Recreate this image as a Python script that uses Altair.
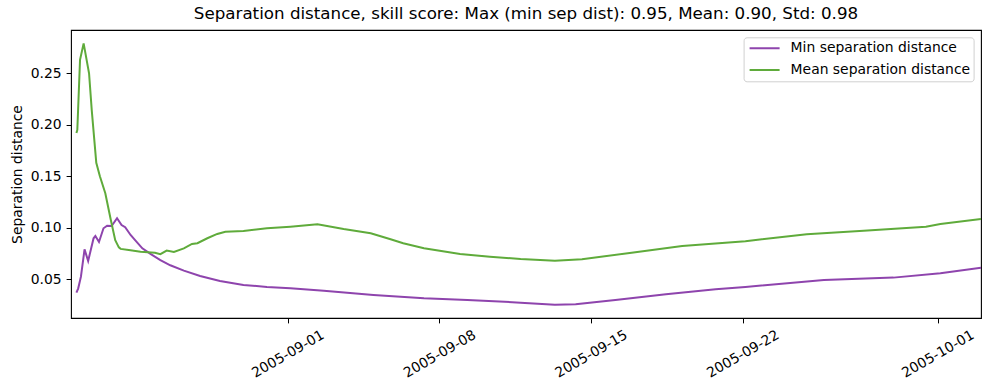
import altair as alt
import pandas as pd

# ---- data ----
series_names = ["Min separation distance", "Mean separation distance"]
series_colors = ["#8e44ad", "#5fab3b"]

min_times = [
    "2005-08-22 06:00", "2005-08-22 08:00", "2005-08-22 11:00", "2005-08-22 15:00",
    "2005-08-22 19:00", "2005-08-23 01:00", "2005-08-23 03:00", "2005-08-23 07:00",
    "2005-08-23 12:00", "2005-08-23 16:00", "2005-08-23 21:00", "2005-08-24 03:00",
    "2005-08-24 08:00", "2005-08-24 12:00", "2005-08-24 18:00", "2005-08-24 23:00",
    "2005-08-25 07:00", "2005-08-25 16:00", "2005-08-26 03:00", "2005-08-26 14:00",
    "2005-08-27 05:00", "2005-08-27 23:00", "2005-08-28 21:00", "2005-08-29 23:00",
    "2005-08-31 01:00", "2005-09-01 03:00", "2005-09-02 16:00", "2005-09-04 23:00",
    "2005-09-07 07:00", "2005-09-09 07:00", "2005-09-11 18:00", "2005-09-13 08:00",
    "2005-09-14 07:00", "2005-09-16 03:00", "2005-09-18 11:00", "2005-09-20 18:00",
    "2005-09-22 03:00", "2005-09-25 18:00", "2005-09-28 23:00", "2005-10-01 03:00",
    "2005-10-03 00:00",
]
min_values = [
    0.0370, 0.0412, 0.0525, 0.0790,
    0.0678, 0.0898, 0.0920, 0.0862,
    0.0995, 0.1020, 0.1017, 0.1092,
    0.1027, 0.1005, 0.0930, 0.0880,
    0.0800, 0.0746, 0.0687, 0.0636,
    0.0584, 0.0532, 0.0484, 0.0445,
    0.0425, 0.0413, 0.0389, 0.0348,
    0.0316, 0.0299, 0.0273, 0.0253,
    0.0257, 0.0299, 0.0354, 0.0403,
    0.0425, 0.0493, 0.0516, 0.0558,
    0.0613,
]

mean_times = [
    "2005-08-22 06:00", "2005-08-22 07:00", "2005-08-22 10:00", "2005-08-22 14:00",
    "2005-08-22 20:00", "2005-08-22 23:00", "2005-08-23 04:00", "2005-08-23 08:00",
    "2005-08-23 14:00", "2005-08-23 20:00", "2005-08-24 01:00", "2005-08-24 05:00",
    "2005-08-24 07:00", "2005-08-24 16:00", "2005-08-25 05:00", "2005-08-25 21:00",
    "2005-08-26 03:00", "2005-08-26 10:00", "2005-08-26 18:00", "2005-08-27 05:00",
    "2005-08-27 14:00", "2005-08-27 20:00", "2005-08-28 07:00", "2005-08-28 18:00",
    "2005-08-29 03:00", "2005-08-29 23:00", "2005-08-31 01:00", "2005-09-01 03:00",
    "2005-09-02 09:00", "2005-09-03 14:00", "2005-09-04 20:00", "2005-09-05 18:00",
    "2005-09-06 08:00", "2005-09-07 07:00", "2005-09-08 23:00", "2005-09-10 08:00",
    "2005-09-11 18:00", "2005-09-13 08:00", "2005-09-14 14:00", "2005-09-16 21:00",
    "2005-09-19 05:00", "2005-09-22 03:00", "2005-09-24 23:00", "2005-09-27 14:00",
    "2005-09-30 11:00", "2005-10-01 03:00", "2005-10-03 00:00",
]
mean_values = [
    0.1920, 0.1950, 0.2630, 0.2790,
    0.2500, 0.2140, 0.1630, 0.1500,
    0.1335, 0.1080, 0.0880, 0.0810,
    0.0795, 0.0785, 0.0768, 0.0758,
    0.0743, 0.0778, 0.0765, 0.0800,
    0.0843, 0.0850, 0.0898, 0.0940,
    0.0962, 0.0969, 0.0995, 0.1011,
    0.1034, 0.0988, 0.0947, 0.0888,
    0.0850, 0.0801, 0.0746, 0.0719,
    0.0697, 0.0681, 0.0694, 0.0758,
    0.0823, 0.0870, 0.0937, 0.0972,
    0.1011, 0.1037, 0.1085,
]

x_tick_dates = [(2005, 9, 1), (2005, 9, 8), (2005, 9, 15), (2005, 9, 22), (2005, 10, 1)]
x_domain = [(2005, 8, 22), (2005, 10, 3)]
y_ticks = [0.05, 0.10, 0.15, 0.20, 0.25]
y_domain = [0.0124, 0.292]

title_text = "Separation distance, skill score: Max (min sep dist): 0.95, Mean: 0.90, Std: 0.98"
y_title = "Separation distance"

# ---- build table ----
def iso(ts):
    return pd.to_datetime(ts).strftime("%Y-%m-%dT%H:%M:%SZ")

rows = []
for t, v in zip(min_times, min_values):
    rows.append({"time": iso(t), "value": v, "series": series_names[0]})
for t, v in zip(mean_times, mean_values):
    rows.append({"time": iso(t), "value": v, "series": series_names[1]})
df = pd.DataFrame(rows)


def dt(y, m, d):
    return alt.DateTime(year=y, month=m, date=d, utc=True)


FONT = "DejaVu Sans"

chart = (
    alt.Chart(df)
    .mark_line(strokeWidth=2, clip=True)
    .encode(
        x=alt.X(
            "time:T",
            scale=alt.Scale(type="utc", domain=[dt(*d) for d in x_domain], nice=False),
            axis=alt.Axis(
                values=[dt(*d) for d in x_tick_dates],
                format="%Y-%m-%d",
                labelAngle=-30,
                labelAlign="center",
                labelBaseline="middle",
                labelPadding=31,
                title=None,
                labelFlush=False,
                labelOverlap=False,
            ),
        ),
        y=alt.Y(
            "value:Q",
            scale=alt.Scale(domain=y_domain, nice=False, zero=False),
            axis=alt.Axis(
                values=y_ticks,
                format=".2f",
                title=y_title,
                titleX=-54,
                titleY=144,
                titleAngle=270,
                titleAlign="center",
                titleBaseline="middle",
                labelPadding=4.9,
            ),
        ),
        color=alt.Color(
            "series:N",
            scale=alt.Scale(domain=series_names, range=series_colors),
            legend=alt.Legend(
                title=None,
                orient="none",
                direction="vertical",
                legendX=672.6,
                legendY=7.3,
                symbolType="stroke",
                symbolSize=900,
                symbolStrokeWidth=2,
                symbolOffset=2,
                labelOffset=10,
                labelFont=FONT,
                labelFontSize=13.9,
                labelColor="black",
                labelLimit=400,
                padding=3,
                clipHeight=16,
                rowPadding=5.7,
                fillColor="white",
                strokeColor="#d0d0d0",
                cornerRadius=3,
            ),
        ),
    )
    .properties(
        width=910,
        height=288,
        background="white",
        autosize=alt.AutoSizeParams(type="none"),
        padding={"left": 71, "top": 30, "right": 8, "bottom": 72},
        title=alt.TitleParams(
            title_text,
            font=FONT,
            fontSize=16.7,
            fontWeight="normal",
            anchor="middle",
            offset=7,
            color="black",
        ),
    )
    .configure_view(stroke="black", strokeWidth=1.1)
    .configure_axis(
        domain=False,
        grid=False,
        ticks=True,
        tickColor="black",
        tickSize=4.9,
        tickWidth=1,
        labelFont=FONT,
        labelFontSize=13.9,
        labelColor="black",
        titleFont=FONT,
        titleFontSize=13.9,
        titleFontWeight="normal",
        titleColor="black",
    )
)

chart.save("out.html", embed_options={"renderer": "svg", "actions": False})
